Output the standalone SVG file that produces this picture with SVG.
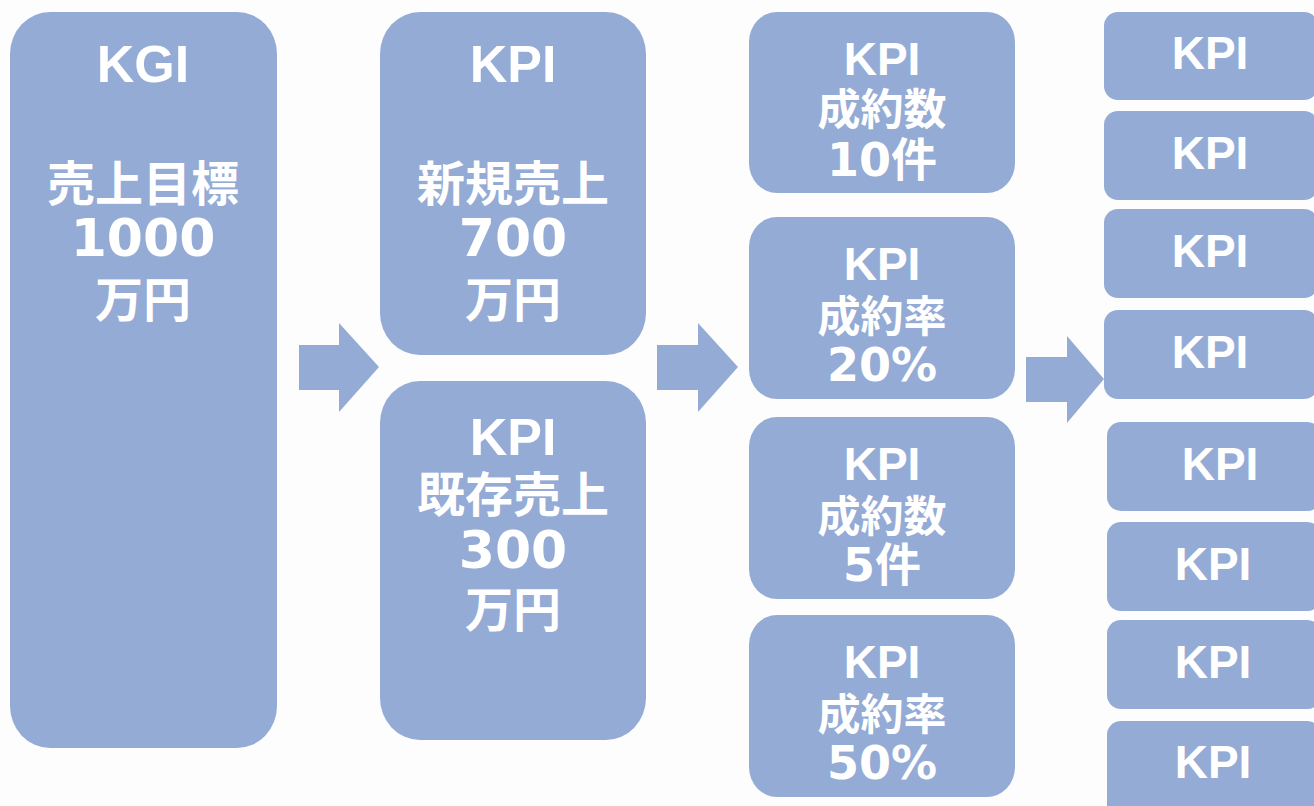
<svg xmlns="http://www.w3.org/2000/svg" width="1314" height="806" viewBox="0 0 1314 806">
<style>
.box{fill:#94abd5;}
.lat{font-family:"Liberation Sans",Arial,sans-serif;font-weight:bold;fill:#ffffff;text-anchor:middle;}
.num{font-family:"DejaVu Sans","Noto Sans CJK JP",sans-serif;font-weight:bold;fill:#ffffff;text-anchor:middle;}
.cjk{font-family:"Noto Sans CJK JP",sans-serif;font-weight:bold;fill:#ffffff;text-anchor:middle;}
.arrow{fill:#94abd5;}
.big{font-size:52px;}
.bigc{font-size:48px;}
.mid{font-size:46px;}
.midc{font-size:43px;}
</style>
<rect width="1314" height="806" fill="#fdfdfd"/>

<g id="kgi">
<rect class="box" x="10" y="12" width="267" height="736" rx="40" ry="42"/>
<text class="lat big" x="143" y="82">KGI</text>
<text class="cjk bigc" x="143" y="201">売上目標</text>
<text class="num big" x="143" y="256">1000</text>
<text class="cjk bigc" x="143" y="317">万円</text>
</g>

<g id="kpi-new">
<rect class="box" x="380" y="12" width="266" height="343" rx="40" ry="42"/>
<text class="lat big" x="513" y="82">KPI</text>
<text class="cjk bigc" x="513" y="201">新規売上</text>
<text class="num big" x="513" y="256">700</text>
<text class="cjk bigc" x="513" y="317">万円</text>
</g>

<g id="kpi-existing">
<rect class="box" x="380" y="381" width="266" height="359" rx="40" ry="42"/>
<text class="lat big" x="513" y="455">KPI</text>
<text class="cjk bigc" x="513" y="512">既存売上</text>
<text class="num big" x="513" y="568">300</text>
<text class="cjk bigc" x="513" y="627">万円</text>
</g>

<g id="kpi-c3-1">
<rect class="box" x="749" y="12" width="266" height="181" rx="28" ry="30"/>
<text class="lat mid" x="882" y="75">KPI</text>
<text class="cjk midc" x="882" y="125">成約数</text>
<text class="num mid" x="882" y="176">10件</text>
</g>
<g id="kpi-c3-2">
<rect class="box" x="749" y="217" width="266" height="182" rx="28" ry="30"/>
<text class="lat mid" x="882" y="280">KPI</text>
<text class="cjk midc" x="882" y="332">成約率</text>
<text class="num mid" x="882" y="381">20%</text>
</g>
<g id="kpi-c3-3">
<rect class="box" x="749" y="417" width="266" height="182" rx="28" ry="30"/>
<text class="lat mid" x="882" y="480">KPI</text>
<text class="cjk midc" x="882" y="532">成約数</text>
<text class="num mid" x="882" y="581">5件</text>
</g>
<g id="kpi-c3-4">
<rect class="box" x="749" y="615" width="266" height="182" rx="28" ry="30"/>
<text class="lat mid" x="882" y="678">KPI</text>
<text class="cjk midc" x="882" y="730">成約率</text>
<text class="num mid" x="882" y="779">50%</text>
</g>

<g id="kpi-c4-1"><rect class="box" x="1104" y="12" width="214" height="88" rx="14"/><text class="lat mid" x="1210" y="69">KPI</text></g>
<g id="kpi-c4-2"><rect class="box" x="1104" y="111" width="214" height="89" rx="14"/><text class="lat mid" x="1210" y="169">KPI</text></g>
<g id="kpi-c4-3"><rect class="box" x="1104" y="209" width="214" height="89" rx="14"/><text class="lat mid" x="1210" y="267">KPI</text></g>
<g id="kpi-c4-4"><rect class="box" x="1104" y="310" width="214" height="89" rx="14"/><text class="lat mid" x="1210" y="368">KPI</text></g>
<g id="kpi-c4-5"><rect class="box" x="1107" y="422" width="214" height="89" rx="14"/><text class="lat mid" x="1220" y="480">KPI</text></g>
<g id="kpi-c4-6"><rect class="box" x="1107" y="522" width="214" height="89" rx="14"/><text class="lat mid" x="1213" y="580">KPI</text></g>
<g id="kpi-c4-7"><rect class="box" x="1107" y="620" width="214" height="89" rx="14"/><text class="lat mid" x="1213" y="678">KPI</text></g>
<g id="kpi-c4-8"><rect class="box" x="1107" y="721" width="214" height="100" rx="14"/><text class="lat mid" x="1213" y="778">KPI</text></g>

<g id="connectors">
<polygon class="arrow" points="299,345 339,345 339,323 379,367 339,412 339,390 299,390"/>
<polygon class="arrow" points="657,345 698,345 698,323 738,367 698,412 698,390 657,390"/>
<polygon class="arrow" points="1026,357 1067,357 1067,336 1104,379 1067,423 1067,402 1026,402"/>
</g>
</svg>
